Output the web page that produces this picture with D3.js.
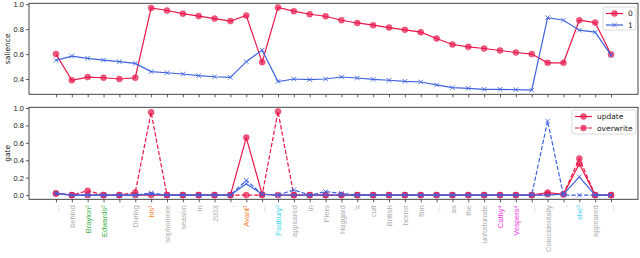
<!DOCTYPE html>
<html>
<head>
<meta charset="utf-8">
<script src="https://cdn.jsdelivr.net/npm/d3@7"></script>
<style>
  body { margin: 0; background: #fff; }
  svg { font-family: "DejaVu Sans", sans-serif; }
</style>
</head>
<body>
<div id="chart"></div>
<script>
// tokens along the x axis, with coreference group (0 = none)
const tokens = ["...", "behind", "Braylon\u00b2", "Edwards\u00b2", ",", "During", "his\u00b9", "sophomore", "season", "in",
    "2003", ",", "Avant\u00b9", "...", "Padbury\u00b3", "appeared", "in", "Piers", "Haggard", "'s",
    "cult", "British", "horror", "film", "...", "as", "the", "unfortunate", "Cathy\u2074", "Vespers\u2074",
    "...", "Coincidentally", ",", "she\u00b3", "appeared", "..."];
const tokenGroup = [0, 0, 2, 2, 0, 0, 1, 0, 0, 0,
    0, 0, 1, 0, 3, 0, 0, 0, 0, 0,
    0, 0, 0, 0, 0, 0, 0, 0, 4, 4,
    0, 0, 0, 3, 0, 0];

// salience per memory slot
const salience0 = [0.60, 0.39, 0.415, 0.41, 0.40, 0.41, 0.97, 0.95, 0.925, 0.905,
    0.885, 0.865, 0.91, 0.535, 0.975, 0.945, 0.92, 0.904, 0.872, 0.85,
    0.832, 0.813, 0.795, 0.776, 0.725, 0.677, 0.658, 0.645, 0.629, 0.613,
    0.60, 0.53, 0.53, 0.872, 0.853, 0.597];
const salience1 = [0.55, 0.584, 0.566, 0.552, 0.539, 0.525, 0.459, 0.45, 0.44, 0.427,
    0.418, 0.413, 0.539, 0.632, 0.38, 0.40, 0.395, 0.40, 0.416, 0.408,
    0.397, 0.39, 0.381, 0.376, 0.352, 0.33, 0.325, 0.317, 0.317, 0.314,
    0.31, 0.893, 0.872, 0.792, 0.776, 0.592];

// gate values (slot 0 = red, slot 1 = blue)
const update0 = [0.02, 0, 0, 0, 0, 0, 0, 0, 0, 0, 0, 0, 0.66, 0.01, 0, 0, 0, 0,
    0, 0, 0, 0, 0, 0, 0, 0, 0, 0, 0, 0, 0, 0.03, 0.01, 0.36, 0, 0];
const overwrite0 = [0.02, 0, 0.05, 0, 0, 0.03, 0.95, 0, 0, 0, 0, 0, 0, 0, 0.96, 0, 0, 0,
    0, 0, 0, 0, 0, 0, 0, 0, 0, 0, 0, 0, 0, 0.01, 0.01, 0.42, 0, 0];
const update1 = [0.02, 0, 0, 0, 0, 0, 0.01, 0, 0, 0, 0, 0, 0.13, 0.01, 0, 0, 0, 0,
    0, 0, 0, 0, 0, 0, 0, 0, 0, 0, 0, 0, 0, 0, 0.01, 0.21, 0, 0];
const overwrite1 = [0.02, 0, 0, 0, 0, 0, 0.025, 0, 0, 0, 0, 0, 0.17, 0.01, 0, 0.06, 0, 0.04,
    0.02, 0, 0, 0, 0, 0, 0, 0, 0, 0, 0, 0, 0, 0.85, 0, 0, 0, 0];

const salienceTicks = [0.4, 0.6, 0.8, 1.0];
const gateTicks = [0.0, 0.2, 0.4, 0.6, 0.8, 1.0];

const RED = "#e8174a";
const BLUE = "#3f63e0";
const groupColor = { 0: "#adadad", 1: "#f58231", 2: "#3cb44b", 3: "#42d4f4", 4: "#f032e6" };

const W = 640, H = 258;
const left = 29, right = 638;
const top1 = 3.3, bot1 = 94.3;
const top2 = 107.3, bot2 = 199.3;

const svg = d3.select("#chart").append("svg")
    .attr("width", W)
    .attr("height", H);

const x = d3.scaleLinear().domain([-1.7, tokens.length - 1 + 1.7]).range([left, right]);
const y1 = d3.scaleLinear().domain([0.277, 1.008]).range([bot1, top1]);
const y2 = d3.scaleLinear().domain([-0.048, 1.008]).range([bot2, top2]);

const idx = d3.range(tokens.length);

function styleAxis(g) {
    g.select(".domain").remove();
    g.selectAll(".tick line").attr("stroke", "#333").attr("stroke-width", 0.8);
    g.selectAll(".tick text").attr("fill", "#222").style("font-size", "7.5px");
}

function drawPanel(yScale, yTicks, top, bot, label, showLabels) {
    svg.append("g")
        .attr("transform", "translate(" + left + ",0)")
        .call(d3.axisLeft(yScale).tickValues(yTicks).tickFormat(d3.format(".1f")).tickSize(3).tickPadding(2))
        .call(styleAxis);

    const xa = svg.append("g")
        .attr("transform", "translate(0," + bot + ")")
        .call(d3.axisBottom(x).tickValues(idx).tickFormat(i => showLabels ? tokens[i] : "").tickSize(3))
        .call(styleAxis);

    if (showLabels) {
        xa.selectAll(".tick text")
            .attr("transform", "rotate(-90)")
            .attr("text-anchor", "end")
            .attr("x", -6)
            .attr("y", 0)
            .attr("dy", "0.35em")
            .attr("fill", i => groupColor[tokenGroup[i]]);
    }

    // frame
    svg.append("rect")
        .attr("x", left).attr("y", top)
        .attr("width", right - left).attr("height", bot - top)
        .attr("fill", "none")
        .attr("stroke", "#333")
        .attr("stroke-width", 0.9);

    svg.append("text")
        .attr("transform", "translate(7," + (top + bot) / 2 + ") rotate(-90)")
        .attr("text-anchor", "middle")
        .attr("dy", "0.35em")
        .style("font-size", "7.5px")
        .attr("fill", "#222")
        .text(label);
}

function markerPath(cx, cy) {
    const s = 2.3;
    return "M" + (cx - s) + "," + (cy - s) + "L" + (cx + s) + "," + (cy + s) +
        "M" + (cx - s) + "," + (cy + s) + "L" + (cx + s) + "," + (cy - s);
}

function drawMarkers(sel, pts, color, marker) {
    if (marker === "o") {
        sel.selectAll("circle")
            .data(pts)
            .join("circle")
            .attr("cx", d => d[0])
            .attr("cy", d => d[1])
            .attr("r", 3)
            .attr("fill", color)
            .attr("fill-opacity", 0.7)
            .attr("stroke", color)
            .attr("stroke-opacity", 0.5)
            .attr("stroke-width", 0.8);
    } else {
        sel.selectAll("path")
            .data(pts)
            .join("path")
            .attr("d", d => markerPath(d[0], d[1]))
            .attr("stroke", color)
            .attr("stroke-opacity", 0.85)
            .attr("stroke-width", 1);
    }
}

function drawSeries(yScale, values, color, marker, dashed) {
    const line = d3.line()
        .x((d, i) => x(i))
        .y(d => yScale(d));

    svg.append("path")
        .datum(values)
        .attr("d", line)
        .attr("fill", "none")
        .attr("stroke", color)
        .attr("stroke-width", 1.2)
        .attr("stroke-dasharray", dashed ? "4.4,1.9" : null);

    drawMarkers(svg.append("g"), values.map((v, i) => [x(i), yScale(v)]), color, marker);
}

function drawLegend(x0, y0, w, h, entries) {
    const g = svg.append("g").attr("transform", "translate(" + x0 + "," + y0 + ")");
    g.append("rect")
        .attr("width", w).attr("height", h)
        .attr("rx", 2)
        .attr("fill", "#fff").attr("fill-opacity", 0.8)
        .attr("stroke", "#d0d0d0").attr("stroke-width", 0.8);
    entries.forEach((e, k) => {
        const yy = 6.5 + k * 11.5;
        g.append("line")
            .attr("x1", 3).attr("x2", 20)
            .attr("y1", yy).attr("y2", yy)
            .attr("stroke", e.color).attr("stroke-width", 1.2)
            .attr("stroke-dasharray", e.dashed ? "4.4,1.9" : null);
        drawMarkers(g.append("g"), [[11.5, yy]], e.color, e.marker);
        g.append("text")
            .attr("x", 25).attr("y", yy)
            .attr("dy", "0.35em")
            .style("font-size", "7.5px")
            .attr("fill", "#222")
            .text(e.label);
    });
}

// top panel: salience
drawPanel(y1, salienceTicks, top1, bot1, "salience", false);
drawSeries(y1, salience0, RED, "o", false);
drawSeries(y1, salience1, BLUE, "x", false);
drawLegend(603, 7, 33, 23, [
    { label: "0", color: RED, marker: "o" },
    { label: "1", color: BLUE, marker: "x" }
]);

// bottom panel: gates
drawPanel(y2, gateTicks, top2, bot2, "gate", true);
drawSeries(y2, update0, RED, "o", false);
drawSeries(y2, overwrite0, RED, "o", true);
drawSeries(y2, update1, BLUE, "x", false);
drawSeries(y2, overwrite1, BLUE, "x", true);
drawLegend(572, 110, 64, 24, [
    { label: "update", color: RED, marker: "o" },
    { label: "overwrite", color: RED, marker: "o", dashed: true }
]);
</script>
</body>
</html>
